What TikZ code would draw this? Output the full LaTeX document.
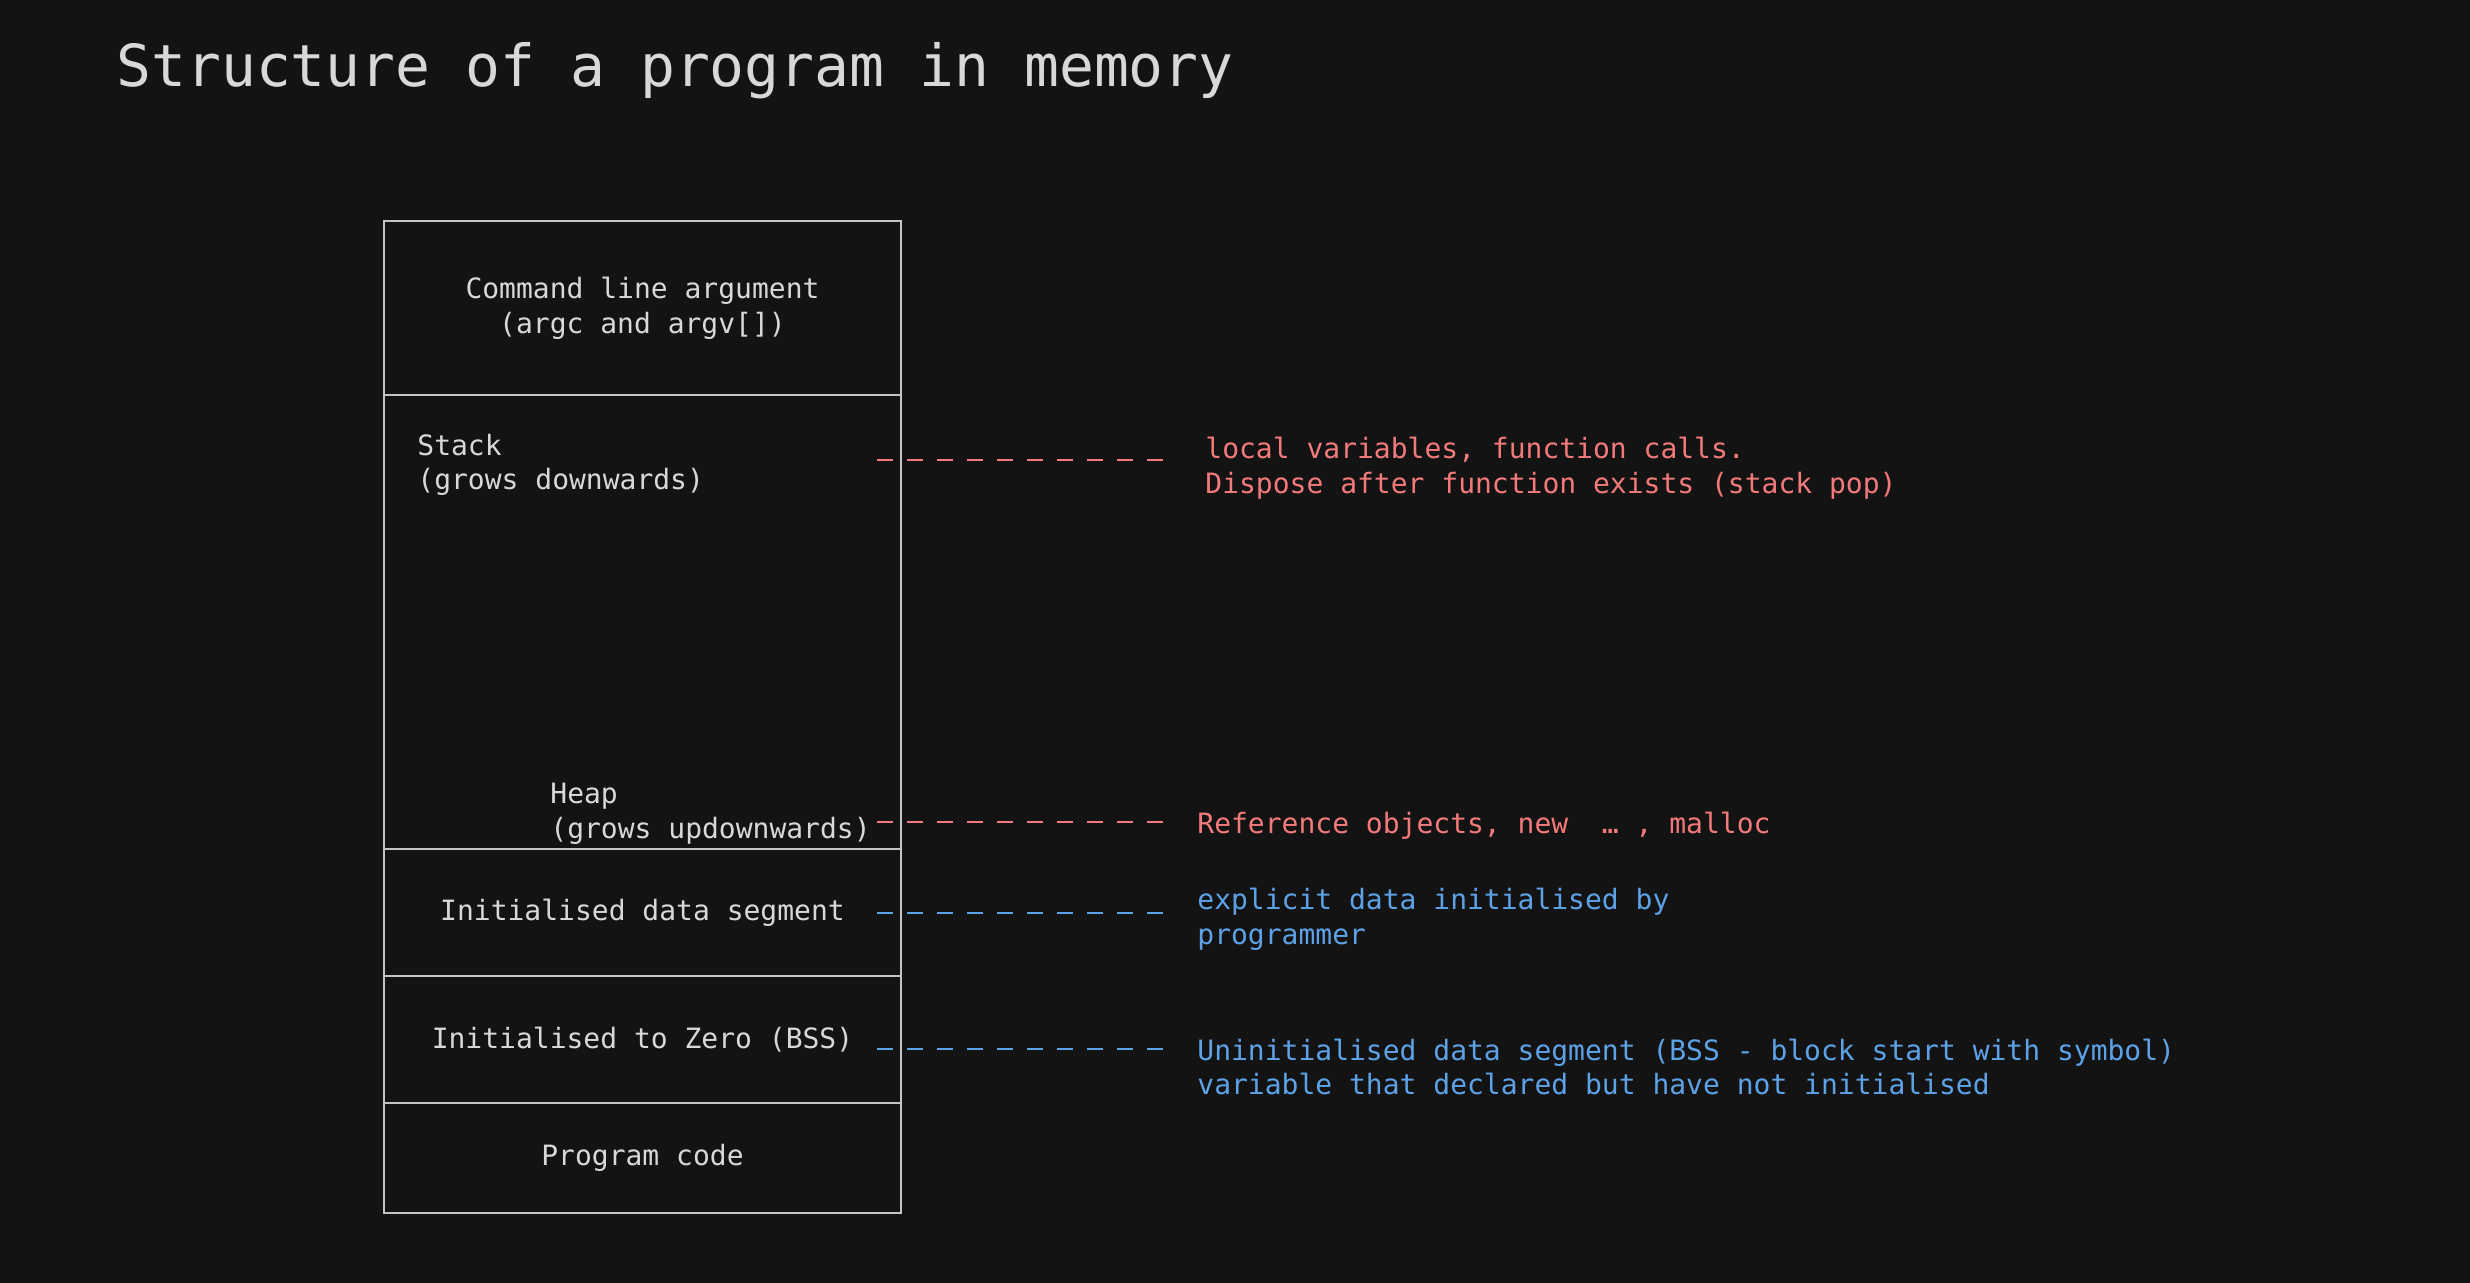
\documentclass[tikz,border=0pt]{standalone}
\usepackage{fontspec}
\setmainfont{DejaVu Sans Mono}
\usetikzlibrary{positioning}

\definecolor{bgdark}{HTML}{131313}
\definecolor{fgtext}{HTML}{D8D8D8}
\definecolor{boxline}{HTML}{C4C4C4}
\definecolor{notered}{HTML}{F27A7A}
\definecolor{noteblue}{HTML}{5DA2E6}

\begin{document}
\begin{tikzpicture}[
  x=0.5pt, y=-0.5pt,
  every node/.style={font=\fontsize{14}{17.3}\selectfont, text=fgtext},
  cell/.style={draw=boxline, line width=0.8pt, outer sep=0pt,
               minimum width=258.5pt, align=center},
  side/.style={inner sep=0pt, align=left, anchor=west},
  note/.style={inner sep=0pt, align=left, anchor=west},
  lead/.style={dash pattern=on 8pt off 7pt, line width=1pt},
]
  \useasboundingbox (0,0) rectangle (2470,1282);
  \fill[bgdark] (-10,-10) rectangle (2480,1292);

  \node[anchor=base west, inner sep=0pt, font=\fontsize{29}{34}\selectfont]
    (title) at (116,86) {Structure of a program in memory};

  % notes on the right
  \node[note, text=notered] (stacknote) at (1205,468)
    {local variables, function calls.\\Dispose after function exists (stack pop)};
  \node[note, text=notered] (heapnote) at (1197,826)
    {Reference objects, new\ \ …\ , malloc};
  \node[note, text=noteblue] (datanote) at (1197,919)
    {explicit data initialised by\\programmer};
  \node[note, text=noteblue] (bssnote) at (1197,1067)
    {Uninitialised data segment (BSS - block start with symbol)\\variable that declared but have not initialised};

  \coordinate (stackpt) at (877,460);
  \coordinate (heappt) at (877,822);
  \coordinate (datapt) at (877,913);
  \coordinate (bsspt) at (877,1049);

  \draw[lead, notered, shorten >=19pt] (stackpt) -- (stackpt -| stacknote.west);
  \draw[lead, notered, shorten >=15pt] (heappt) -- (heappt -| heapnote.west);
  \draw[lead, noteblue, shorten >=15pt] (datapt) -- (datapt -| datanote.west);
  \draw[lead, noteblue, shorten >=15pt] (bsspt) -- (bsspt -| bssnote.west);

  % memory layout
  \node[cell, minimum height=87pt] (cmd) at (642.5,308)
    {Command line argument\\(argc and argv[])};
  \node[cell, minimum height=227pt, below=0pt of cmd] (stack) {};
  \node[cell, minimum height=63.5pt, below=0pt of stack] (data) {Initialised data segment};
  \node[cell, minimum height=63.5pt, below=0pt of data] (bss) {Initialised to Zero (BSS)};
  \node[cell, minimum height=55pt, below=0pt of bss] (code) {Program code};

  \node[side] (stacktxt) at (417,465) {Stack\\(grows downwards)};
  \node[side] (heaptxt) at (550,814) {Heap\\(grows updownwards)};
\end{tikzpicture}
\end{document}
